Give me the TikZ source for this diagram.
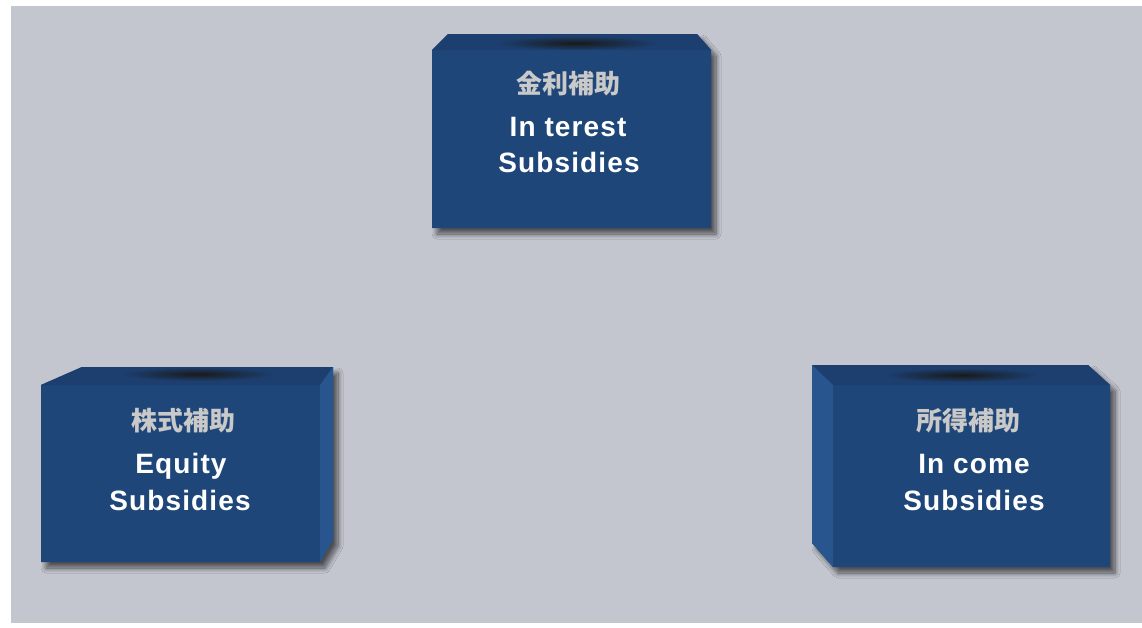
\documentclass[tikz,border=0pt]{standalone}
\usepackage{fontspec}
\setmainfont{Liberation Sans}
\newfontfamily\jpfont{Noto Sans CJK JP}
\usetikzlibrary{shadows.blur}
\definecolor{bgpanel}{HTML}{C3C6CF}
\definecolor{boxfront}{HTML}{1F4678}
\definecolor{boxtop}{HTML}{1C3F70}
\definecolor{boxside}{HTML}{29558F}
\definecolor{jpgray}{HTML}{C9C9C9}
\tikzset{
  boxbody/.style = {fill=boxfront, blur shadow={shadow xshift=5pt,
    shadow yshift=-6pt, shadow opacity=60, shadow blur radius=5pt,
    shadow blur steps=10}},
  boxtopface/.style = {fill=boxtop},
  boxsideface/.style = {fill=boxside},
  slot/.style = {inner color=black!90, outer color=boxtop},
  jplabel/.style = {anchor=base, inner sep=0pt, text=jpgray,
    font=\jpfont\bfseries\fontsize{26}{26}\selectfont},
  enlabel/.style = {anchor=base, inner sep=0pt, text=white,
    font=\addfontfeature{LetterSpace=4}\bfseries\fontsize{28}{28}\selectfont}
}
\begin{document}
\begin{tikzpicture}[x=1pt, y=-1pt]
\fill[white] (0,0) rectangle (1142,627);
\useasboundingbox (0,0) rectangle (1142,627);
\fill[bgpanel] (11,6) rectangle (1142,623);

\path[boxbody] (432,50) -- (448,34) -- (697,34) -- (711,50) -- (711,228) -- (432,228) -- cycle;
\path[boxtopface] (432,50) -- (448,34) -- (697,34) -- (711,50) -- cycle;
\shade[slot] (577,43) ellipse [x radius=82, y radius=7];
\node[jplabel] (int-jp) at (568,93) {金利補助};
\node[enlabel] (int-en1) at (568,136) {In terest};
\node[enlabel] (int-en2) at (569,172) {Subsidies};

\path[boxbody] (41,385) -- (82,367) -- (333,367) -- (333,540) -- (320,562) -- (41,562) -- cycle;
\path[boxtopface] (41,385) -- (82,367) -- (333,367) -- (320,385) -- cycle;
\path[boxsideface] (320,385) -- (333,367) -- (333,540) -- (320,562) -- cycle;
\shade[slot] (198,374) ellipse [x radius=77, y radius=7];
\node[jplabel] (eq-jp) at (183,430) {株式補助};
\node[enlabel] (eq-en1) at (181,473) {Equity};
\node[enlabel] (eq-en2) at (180,510) {Subsidies};

\path[boxbody] (812,365) -- (1088,365) -- (1110,385) -- (1110,567) -- (833,567) -- (812,543) -- cycle;
\path[boxtopface] (812,365) -- (1088,365) -- (1110,385) -- (833,385) -- cycle;
\path[boxsideface] (812,365) -- (833,385) -- (833,567) -- (812,543) -- cycle;
\shade[slot] (961,375) ellipse [x radius=78, y radius=7];
\node[jplabel] (inc-jp) at (968,430) {所得補助};
\node[enlabel] (inc-en1) at (974,473) {In come};
\node[enlabel] (inc-en2) at (974,510) {Subsidies};
\end{tikzpicture}
\end{document}
